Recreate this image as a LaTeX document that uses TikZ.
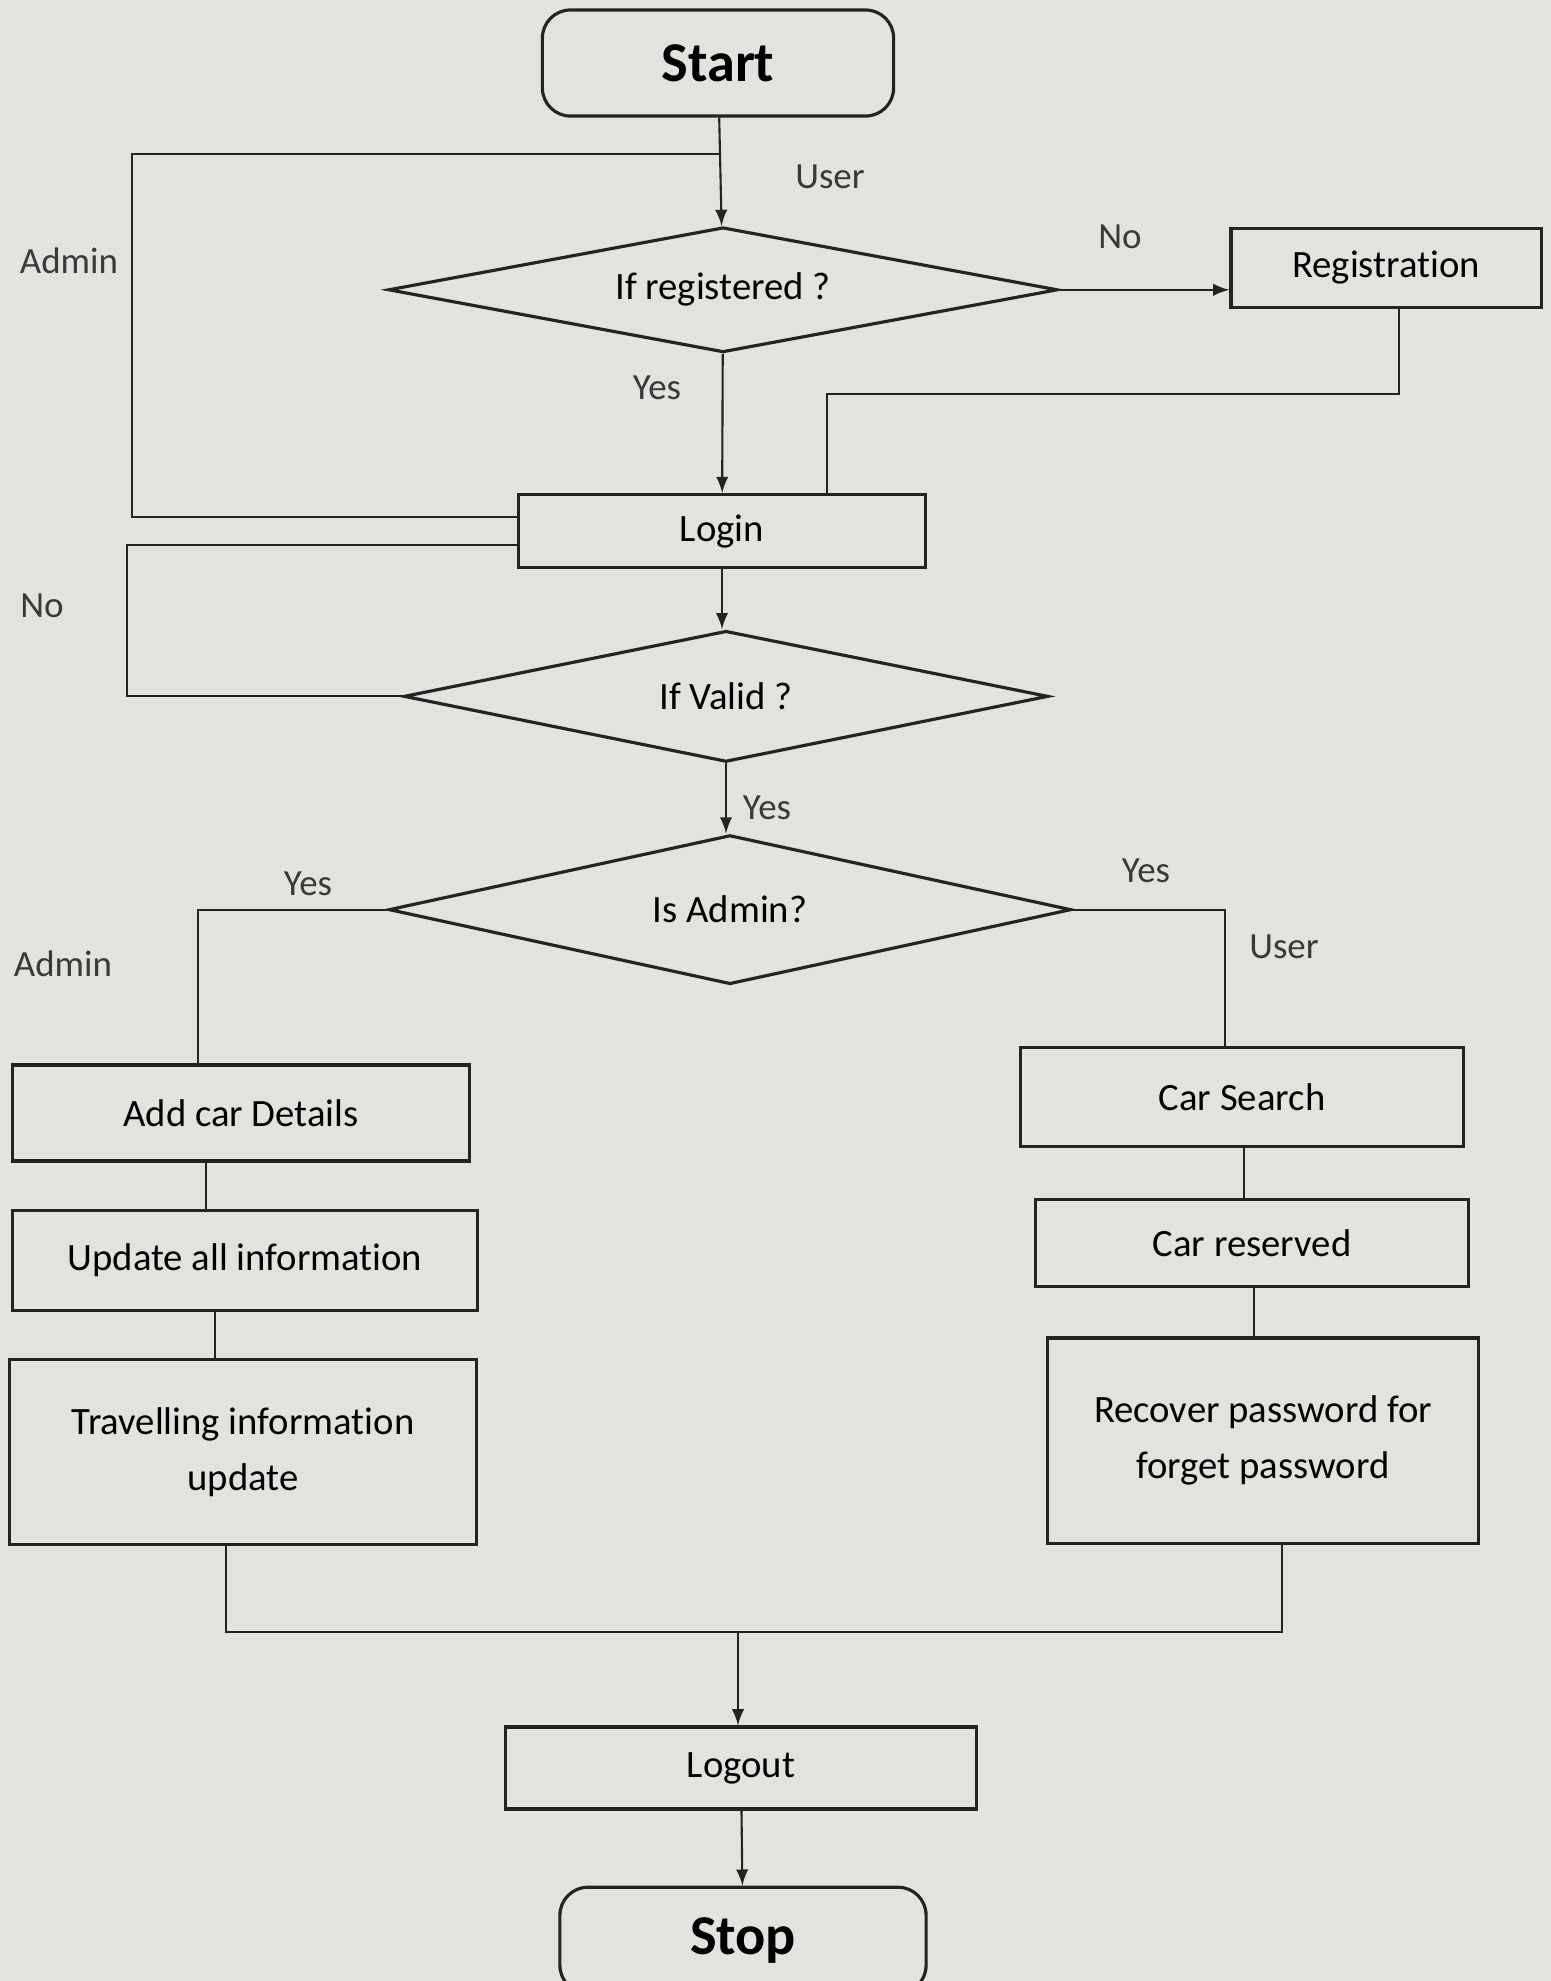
\documentclass[tikz,border=0pt]{standalone}
\usepackage{fontspec}
\setmainfont{Carlito}[Ligatures={NoCommon}]
\usetikzlibrary{arrows,shapes.geometric,positioning,calc}

\definecolor{paper}{RGB}{226,226,223}
\definecolor{ink}{RGB}{35,35,35}

\tikzset{
  terminal/.style={draw=ink, line width=0.9pt, rounded corners=0.28cm, minimum width=3.51cm, minimum height=1.06cm, font=\fontsize{16}{19}\selectfont\bfseries},
  process/.style={draw=ink, line width=0.9pt, inner sep=2pt, align=center, font=\fontsize{11}{16}\selectfont},
  decision/.style={diamond, draw=ink, line width=0.9pt, shape aspect=5, inner sep=0pt, font=\fontsize{11}{13}\selectfont},
  lbl/.style={text=ink!90, font=\fontsize{10.5}{12}\selectfont, inner sep=0pt},
  line/.style={draw=ink, line width=0.6pt},
  arrow/.style={line, -latex},
}

\begin{document}
\begin{tikzpicture}[x=0.01cm, y=-0.01cm]

  % Page
  \useasboundingbox (0,0) rectangle (1551,1981);
  \fill[paper] (0,0) rectangle (1551,1981);

  % Define nodes
  \node[terminal] (start) at (718,63) {Start};

 % Registration and login

	\node[decision, below=1.08cm of start, xshift=0.05cm, minimum width=6.69cm, minimum height=1.25cm] (registered) {If registered ?};
	\node[process, right=1.70cm of registered, yshift=0.22cm, minimum width=3.10cm, minimum height=0.79cm] (registration) {Registration};
	\node[process, below=1.39cm of registered, xshift=-0.01cm, minimum width=4.07cm, minimum height=0.73cm] (login) {Login};
	\node[decision, below=0.60cm of login, xshift=0.04cm, minimum width=6.44cm, minimum height=1.31cm] (valid) {If Valid ?};
	\node[decision, below=0.70cm of valid, xshift=0.04cm, minimum width=6.82cm, minimum height=1.49cm] (isadmin) {Is Admin?};

% Admin side

	\node[process, minimum width=4.56cm, minimum height=0.96cm] (addcar) at (241,1113) {Add car Details};
	\node[process, below=0.46cm of addcar, xshift=0.04cm, minimum width=4.64cm, minimum height=1.00cm] (update) {Update all information};
	\node[process, below=0.46cm of update, xshift=-0.02cm, minimum width=4.66cm, minimum height=1.85cm] (travel) {Travelling information\\update};

% User side

	\node[process, minimum width=4.42cm, minimum height=0.99cm] (carsearch) at (1242,1097) {Car Search};
	\node[process, below=0.50cm of carsearch, xshift=0.10cm, minimum width=4.32cm, minimum height=0.87cm] (reserved) {Car reserved};
	\node[process, below=0.48cm of reserved, xshift=0.11cm, minimum width=4.30cm, minimum height=2.05cm] (recover) {Recover password for\\forget password};

% End

	\node[process, minimum width=4.71cm, minimum height=0.82cm] (logout) at (741,1768) {Logout};
	\node[terminal, below=0.75cm of logout, xshift=0.02cm, minimum width=3.66cm] (stop) {Stop};

% Labels

	\node[lbl] (lbluser) at (830,177) {User};
	\node[lbl] (lbladmin) at (69,261) {Admin};
	\node[lbl] (lblno) at (1120,237) {No};
	\node[lbl] (lblyes) at (657,388) {Yes};
	\node[lbl] (lblnovalid) at (42,606) {No};
	\node[lbl] (lblyesvalid) at (767,808) {Yes};
	\node[lbl] (lblyesleft) at (308,884) {Yes};
	\node[lbl] (lbladminleft) at (63,964) {Admin};
	\node[lbl] (lblyesright) at (1146,871) {Yes};
	\node[lbl] (lbluserright) at (1284,947) {User};

% Connectors

  \coordinate (adminfork) at ($(start.south)!0.34!(registered.north)$);
  \coordinate (adminleft) at (132,0);
  \draw[arrow] (start) -- (registered);
  \draw[line] ([yshift=0.14cm]login.west) -| (adminleft |- adminfork) -- (adminfork);
  \draw[arrow] (registered) -- (login);
  \draw[arrow] (registered.east) -- (registered.east -| registration.west);
  \draw[line] ([xshift=0.13cm]registration.south) -- ++(0,-0.85cm) -| ([xshift=1.05cm]login.north);
  \draw[arrow] (login.south) -- (login.south |- valid.north);
  \draw[line] (valid.west) -| (127,600) |- ([yshift=-0.14cm]login.west);
  \draw[arrow] (valid.south) -- (valid.south |- isadmin.north);

  \draw[line] (isadmin.west) -| ([xshift=-0.43cm]addcar.north);
  \draw[line] (isadmin.east) -| ([xshift=-0.17cm]carsearch.north);
  \draw[line] ([xshift=-0.35cm]addcar.south) -- ([xshift=-0.35cm]addcar.south |- update.north);
  \draw[line] ([xshift=-0.30cm]update.south) -- ([xshift=-0.30cm]update.south |- travel.north);
  \draw[line] ([xshift=0.02cm]carsearch.south) -- ([xshift=0.02cm]carsearch.south |- reserved.north);
  \draw[line] ([xshift=0.02cm]reserved.south) -- ([xshift=0.02cm]reserved.south |- recover.north);

  \coordinate (merge) at (738,1632);
  \draw[line] ([xshift=-0.17cm]travel.south) |- (merge) -| ([xshift=0.19cm]recover.south);
  \draw[arrow] (merge) -- (merge |- logout.north);
  \draw[arrow] (logout) -- (stop);

\end{tikzpicture}
\end{document}
